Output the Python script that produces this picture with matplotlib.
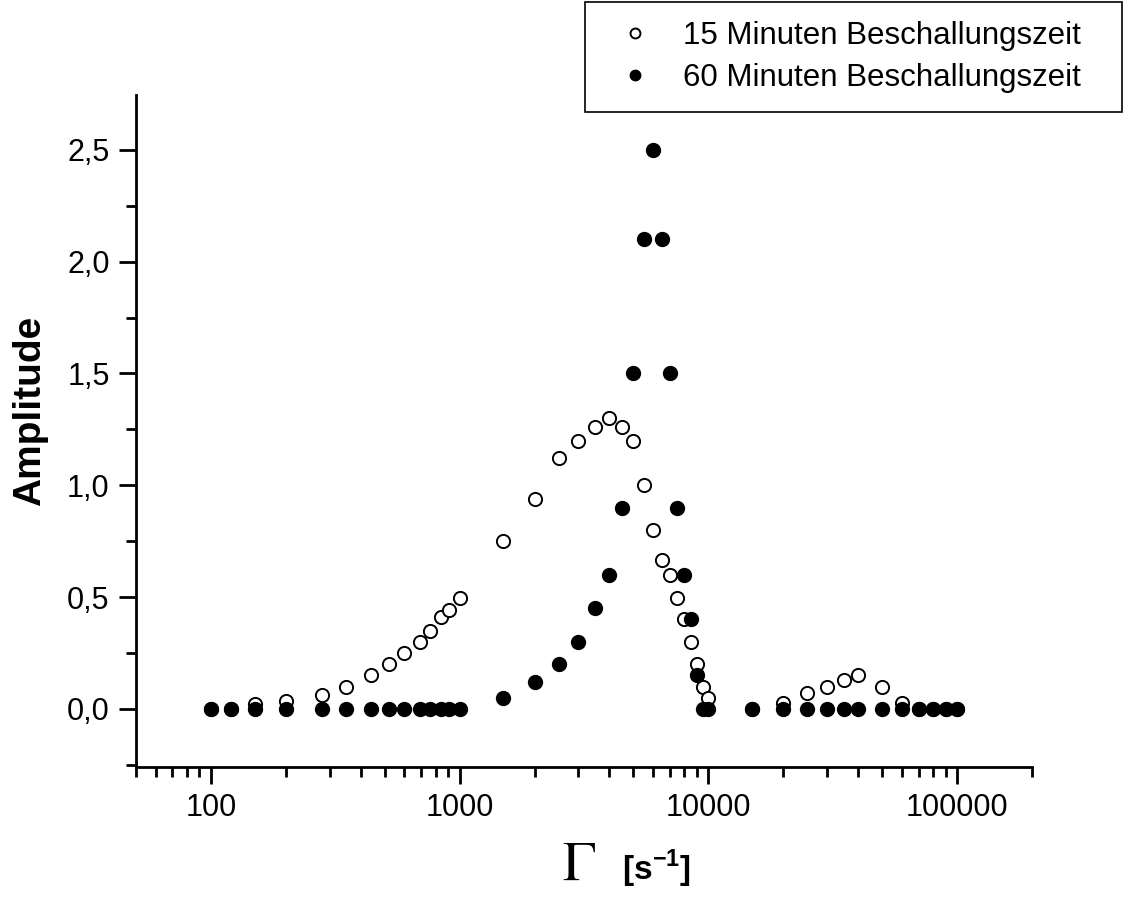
import numpy as np
import matplotlib.pyplot as plt
from matplotlib.ticker import MultipleLocator, FuncFormatter, LogLocator, NullFormatter

plt.rcParams['font.family'] = ['Liberation Sans', 'DejaVu Sans']
plt.rcParams['mathtext.fontset'] = 'custom'
plt.rcParams['mathtext.rm'] = 'Liberation Sans'
plt.rcParams['mathtext.bf'] = 'Liberation Sans:bold'

# Gamma [1/s]
gamma = [100, 120, 150, 200, 280, 350, 440, 520, 600, 690, 760, 840, 910, 1000,
         1500, 2000, 2500, 3000, 3500, 4000, 4500, 5000, 5500, 6000, 6500, 7000,
         7500, 8000, 8500, 9000, 9500, 10000,
         15000, 20000, 25000, 30000, 35000, 40000, 50000, 60000, 70000, 80000,
         90000, 100000]

amp_15 = [0, 0, 0.02, 0.037, 0.06, 0.10, 0.15, 0.20, 0.25, 0.30, 0.35, 0.41, 0.443, 0.497,
          0.75, 0.937, 1.12, 1.20, 1.26, 1.30, 1.26, 1.20, 1.0, 0.80, 0.668, 0.60,
          0.497, 0.40, 0.30, 0.20, 0.10, 0.05,
          0, 0.025, 0.07, 0.10, 0.13, 0.15, 0.10, 0.025, 0, 0,
          0, 0]

amp_60 = [0, 0, 0, 0, 0, 0, 0, 0, 0, 0, 0, 0, 0, 0,
          0.05, 0.12, 0.20, 0.30, 0.45, 0.60, 0.90, 1.50, 2.10, 2.50, 2.10, 1.50,
          0.90, 0.60, 0.40, 0.15, 0, 0,
          0, 0, 0, 0, 0, 0, 0, 0, 0, 0,
          0, 0]

fig = plt.figure(figsize=(11.32, 8.97), dpi=100)
ax = fig.add_axes([0.1201, 0.1449, 0.7916, 0.7491])

ax.plot(gamma, amp_15, 'o', mfc='white', mec='black', mew=1.4, ms=9.5,
        label='15 Minuten Beschallungszeit')
ax.plot(gamma, amp_60, 'o', mfc='black', mec='black', ms=10,
        label='60 Minuten Beschallungszeit')

ax.set_xscale('log')
ax.set_xlim(50, 200000)
ax.set_ylim(-0.26, 2.745)

ax.xaxis.set_major_locator(LogLocator(base=10, numticks=10))
ax.xaxis.set_minor_locator(LogLocator(base=10, subs=np.arange(2, 10), numticks=20))
ax.xaxis.set_minor_formatter(NullFormatter())
ax.xaxis.set_major_formatter(FuncFormatter(lambda v, p: '%d' % round(v)))

ax.yaxis.set_major_locator(MultipleLocator(0.5))
ax.yaxis.set_minor_locator(MultipleLocator(0.25))
ax.yaxis.set_major_formatter(FuncFormatter(lambda v, p: ('%.1f' % v).replace('.', ',')))

for s in ['top', 'right']:
    ax.spines[s].set_visible(False)
for s in ['left', 'bottom']:
    ax.spines[s].set_linewidth(2)

ax.tick_params(which='major', direction='out', length=12, width=2, labelsize=22, pad=7)
ax.tick_params(which='minor', direction='out', length=7, width=2)

ax.set_ylabel('Amplitude', fontsize=28, fontweight='bold')
ax.yaxis.set_label_coords(-0.098, 0.53)

fig.text(0.511, 0.019, r'$\Gamma$', fontsize=40, family='Liberation Serif',
         ha='center', va='baseline', math_fontfamily='stix')
fig.text(0.58, 0.019, r'[s$^{\mathbf{-1}}$]', fontsize=24, fontweight='bold',
         ha='center', va='baseline')

leg = fig.legend(loc='upper left',
                 bbox_to_anchor=(585 / 1132, 1 - 107 / 897, 537 / 1132, 105 / 897),
                 mode='expand', fontsize=22.5, framealpha=1,
                 frameon=True, fancybox=False, edgecolor='black', borderpad=0.6,
                 handlelength=2.0, handletextpad=0.53, labelspacing=0.39,
                 markerscale=0.75, borderaxespad=0)
leg.get_frame().set_linewidth(1.2)

fig.savefig('out.png', dpi=100)
